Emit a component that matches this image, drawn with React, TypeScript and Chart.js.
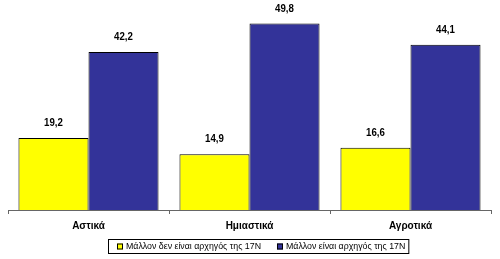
import React, { useEffect, useRef } from "react";
import { Chart, registerables } from "chart.js";

Chart.register(...registerables);

const categories = ["Αστικά", "Ημιαστικά", "Αγροτικά"];
const seriesNames = ["Μάλλον δεν είναι αρχηγός της 17Ν", "Μάλλον είναι αρχηγός της 17Ν"];
const seriesNotLeader = [19.2, 14.9, 16.6];
const seriesLeader = [42.2, 49.8, 44.1];
const seriesColors = ["#FFFF00", "#333399"];

const FONT = "'Liberation Sans', Arial, sans-serif";

const fmt = (v: number) => v.toFixed(1).replace(".", ",");

const valueLabels = {
  id: "valueLabels",
  afterDatasetsDraw(chart: any) {
    const ctx = chart.ctx;
    chart.data.datasets.forEach((ds: any, i: number) => {
      const meta = chart.getDatasetMeta(i);
      meta.data.forEach((el: any, j: number) => {
        ctx.save();
        ctx.font = `bold 11px ${FONT}`;
        ctx.fillStyle = "#000";
        ctx.textAlign = "center";
        ctx.textBaseline = "middle";
        ctx.translate(el.x, el.y - 15);
        ctx.scale(0.88, 1);
        ctx.fillText(fmt(ds.data[j]), 0, 0);
        ctx.restore();
      });
    });
  },
};

const boxLegend = {
  id: "boxLegend",
  afterDraw(chart: any) {
    const ctx = chart.ctx;
    ctx.save();
    ctx.font = `8.8px ${FONT}`;
    const left = 108;
    const top = 239;
    const h = 14;
    const sq = 6;
    const items = chart.data.datasets.map((ds: any) => ({
      text: ds.label,
      color: ds.backgroundColor,
      w: ctx.measureText(ds.label).width,
    }));
    const padL = 9;
    const gapSq = 3;
    const spacing = 16;
    let total = padL;
    items.forEach((it: any, i: number) => {
      total += sq + gapSq + it.w + (i < items.length - 1 ? spacing : 0);
    });
    total += 3;
    ctx.fillStyle = "#fff";
    ctx.fillRect(left, top, total, h);
    ctx.strokeStyle = "#000";
    ctx.lineWidth = 1;
    ctx.strokeRect(left + 0.5, top + 0.5, total, h);
    let x = left + padL;
    const cy = top + h / 2 + 0.5;
    items.forEach((it: any) => {
      ctx.fillStyle = it.color;
      ctx.fillRect(x, cy - sq / 2, sq, sq);
      ctx.strokeStyle = "#000";
      ctx.strokeRect(x + 0.5, cy - sq / 2 + 0.5, sq - 1, sq - 1);
      x += sq + gapSq;
      ctx.fillStyle = "#000";
      ctx.textAlign = "left";
      ctx.textBaseline = "middle";
      ctx.fillText(it.text, x, cy);
      x += it.w + spacing;
    });
    ctx.restore();
  },
};

export default function App() {
  const ref = useRef<HTMLCanvasElement>(null);
  useEffect(() => {
    document.body.style.margin = "0";
    const chart = new Chart(ref.current!, {
      type: "bar",
      data: {
        labels: categories,
        datasets: [
          {
            label: seriesNames[0],
            data: seriesNotLeader,
            backgroundColor: seriesColors[0],
            borderColor: "#000",
            borderWidth: 1,
          },
          {
            label: seriesNames[1],
            data: seriesLeader,
            backgroundColor: seriesColors[1],
            borderColor: "#000",
            borderWidth: 1,
          },
        ],
      },
      options: {
        animation: false,
        responsive: false,
        devicePixelRatio: 1,
        layout: { padding: { left: 8, right: 9, top: 4, bottom: 21 } },
        datasets: { bar: { categoryPercentage: 0.87, barPercentage: 1 } },
        plugins: {
          legend: { display: false },
          tooltip: { enabled: false },
        },
        scales: {
          x: {
            grid: {
              display: true,
              offset: true,
              drawOnChartArea: false,
              tickLength: 4,
              color: "#666",
            },
            border: { display: true, color: "#666" },
            ticks: {
              padding: 6,
              color: "#000",
              font: { family: FONT, size: 10, weight: "bold" },
            },
          },
          y: {
            display: false,
            min: 0,
            max: 55,
          },
        },
      },
      plugins: [valueLabels, boxLegend],
    });
    return () => chart.destroy();
  }, []);
  return <canvas ref={ref} width={500} height={259} style={{ display: "block" }} />;
}
